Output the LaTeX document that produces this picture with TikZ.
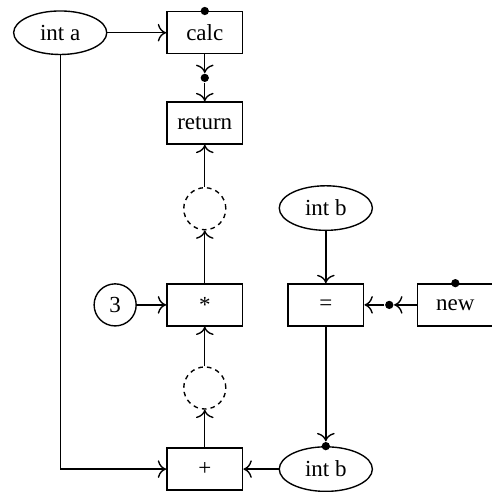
\documentclass[tikz,border=0pt]{standalone}
\usepackage{fontspec}
\setmainfont{Liberation Serif}
\usetikzlibrary{shapes.geometric,arrows.meta}

\begin{document}
\begin{tikzpicture}[->,>={To[scale=1.25]},semithick,
    op/.style={draw,rectangle,minimum width=33pt,minimum height=18.3pt},
    var/.style={draw,ellipse,minimum width=40.5pt,minimum height=16.5pt},
    lit/.style={draw,circle,minimum size=18.3pt,inner sep=0pt},
    hole/.style={draw,circle,dash pattern=on 2pt off 1.8pt,minimum size=18.3pt},
    port/.style={fill,circle,inner sep=0pt,minimum size=3.6pt}]
      \useasboundingbox (0,0) rectangle (7.52,-7.52);

      \node[var]  (inta)   at (0.92, -0.50) {int a};
      \node[op]   (calc)   at (3.13, -0.50) {calc};
      \node[op]   (ret)    at (3.13, -1.88) {return};
      \node[hole] (hole1)  at (3.13, -3.19) {};
      \node[op]   (mul)    at (3.13, -4.66) {*};
      \node[lit]  (three)  at (1.76, -4.66) {3};
      \node[hole] (hole2)  at (3.13, -5.93) {};
      \node[op]   (plus)   at (3.13, -7.17) {+};
      \node[var]  (intb)   at (4.98, -3.18) {int b};
      \node[op]   (eq)     at (4.98, -4.66) {=};
      \node[op]   (new)    at (6.96, -4.66) {new};
      \node[var]  (intb2)  at (4.98, -7.17) {int b};

      % ports
      \node[port] (calcin)  at (calc.north) {};
      \node[port] (newin)   at (new.north) {};
      \node[port] (intbin)  at (intb2.north) {};
      \node[port] (calcout) at (3.13, -1.19) {};
      \node[port] (newout)  at (5.95, -4.66) {};

      \path
        (inta)    edge (calc)
        (calc)    edge (calcout)
        (calcout) edge (ret)
        (hole1)   edge (ret)
        (mul)     edge (hole1)
        (three)   edge (mul)
        (hole2)   edge (mul)
        (plus)    edge (hole2)
        (intb)    edge (eq)
        (new)     edge (newout)
        (newout)  edge (eq)
        (eq)      edge (intbin)
        (intb2)   edge (plus);
      \draw (inta) |- (plus);
    \end{tikzpicture}
\end{document}
